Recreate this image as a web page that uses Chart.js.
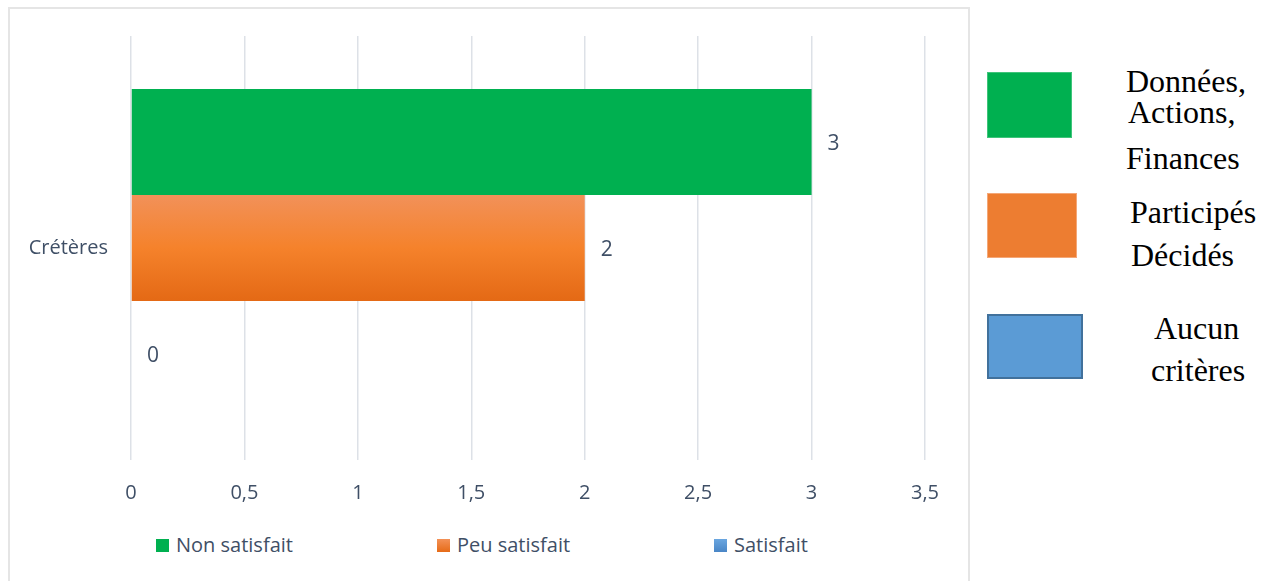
<!DOCTYPE html>
<html>
<head>
<meta charset="utf-8">
<script src="https://cdn.jsdelivr.net/npm/chart.js@4/dist/chart.umd.min.js"></script>
<style>
  body { margin: 0; background: #fff; width: 1268px; height: 581px; overflow: hidden; position: relative; }
  #frame { position: absolute; left: 8px; top: 7px; width: 962px; height: 600px; border: 2px solid #e5e5e5; box-sizing: border-box; }
  #wrap { position: absolute; left: 0; top: 0; width: 968px; height: 520px; }
  .leg { position: absolute; top: 531px; font: 20px "Open Sans", sans-serif; color: #3f4f66; line-height: 28px; }
  .leg i { position: absolute; left: 0; top: 8px; width: 13px; height: 13px; }
  .leg span { position: absolute; left: 20px; top: 0; white-space: nowrap; }
  .box { position: absolute; left: 987px; box-sizing: border-box; }
  .txt { position: absolute; font: 32px "Liberation Serif", "Times New Roman", serif; line-height: 36px; color: #000; white-space: nowrap; }
</style>
</head>
<body>
<div id="frame"></div>
<div id="wrap"><canvas id="barChart"></canvas></div>
<div id="legend"></div>
<div id="panel"></div>
<script>
// values
const categories = ['Crétères'];
const seriesNames = ['Non satisfait', 'Peu satisfait', 'Satisfait'];
const nonSatisfait = [3];
const peuSatisfait = [2];
const satisfait = [0];
const seriesColors = ['#00b050', '#f07d2e', '#5b9bd5'];
const axisMax = 3.5;
const axisStep = 0.5;

// side notes next to the chart
const panelLines = [
  ['Données,', 'Actions,', 'Finances'],
  ['Participés', 'Décidés'],
  ['Aucun', 'critères'],
];

const textColor = '#3f4f66';

// orange bar has a soft vertical gradient
const gradientBar = {
  id: 'gradientBar',
  beforeDatasetsDraw(chart) {
    const el = chart.getDatasetMeta(1).data[0];
    if (!el) return;
    const top = el.y - el.height / 2;
    const g = chart.ctx.createLinearGradient(0, top, 0, top + el.height);
    g.addColorStop(0, '#f29159');
    g.addColorStop(0.5, '#f5822b');
    g.addColorStop(1, '#e46915');
    el.options.backgroundColor = g;
  }
};

// value labels at the end of each bar
const valueLabels = {
  id: 'valueLabels',
  afterDatasetsDraw(chart) {
    const ctx = chart.ctx;
    ctx.save();
    ctx.font = '21px "Open Sans", sans-serif';
    ctx.fillStyle = textColor;
    ctx.textAlign = 'left';
    ctx.textBaseline = 'middle';
    chart.data.datasets.forEach((ds, i) => {
      chart.getDatasetMeta(i).data.forEach((el, j) => {
        ctx.fillText(String(ds.data[j]), el.x + 16, el.y + 2);
      });
    });
    ctx.restore();
  }
};

const ctx = document.getElementById('barChart').getContext('2d');
new Chart(ctx, {
  type: 'bar',
  data: {
    labels: categories,
    datasets: [
      { label: seriesNames[0], data: nonSatisfait, backgroundColor: seriesColors[0] },
      { label: seriesNames[1], data: peuSatisfait, backgroundColor: seriesColors[1] },
      { label: seriesNames[2], data: satisfait, backgroundColor: seriesColors[2] },
    ],
  },
  options: {
    indexAxis: 'y',
    responsive: true,
    maintainAspectRatio: false,
    animation: false,
    categoryPercentage: 0.75,
    barPercentage: 1,
    borderWidth: 0,
    layout: { padding: { top: 36, right: 43, left: 0, bottom: 0 } },
    plugins: { legend: { display: false }, tooltip: { enabled: false } },
    scales: {
      x: {
        min: 0,
        max: axisMax,
        ticks: {
          stepSize: axisStep,
          padding: 21,
          color: textColor,
          font: { family: 'Open Sans', size: 20 },
          callback: (v) => String(v).replace('.', ','),
        },
        grid: { color: '#dde1e7', lineWidth: 1.5, drawTicks: false },
        border: { display: false },
        afterFit(scale) {
          scale.height = 60;
          scale.paddingLeft = 0;
          scale.paddingRight = 0;
        },
      },
      y: {
        ticks: { padding: 23, color: textColor, font: { family: 'Open Sans', size: 20 } },
        grid: { display: false, drawTicks: false },
        border: { display: false },
        afterFit(scale) {
          scale.width = 131;
          scale.paddingTop = 0;
          scale.paddingBottom = 0;
        },
      },
    },
  },
  plugins: [gradientBar, valueLabels],
});

// bottom legend
const legendLeft = [156, 437, 714];
const legendSwatch = [seriesColors[0], 'linear-gradient(#f39157, #e66b17)', 'linear-gradient(#6aa6e0, #4a86c6)'];
const legend = document.getElementById('legend');
seriesNames.forEach((name, i) => {
  const d = document.createElement('div');
  d.className = 'leg';
  d.style.left = legendLeft[i] + 'px';
  d.innerHTML = '<i style="background:' + legendSwatch[i] + '"></i><span>' + name + '</span>';
  legend.appendChild(d);
});

// right panel: coloured blocks with serif captions
const panel = document.getElementById('panel');
const boxStyles = [
  { top: 72, w: 85, h: 66, bg: '#00b050', border: '1px solid #3fc47a' },
  { top: 193, w: 90, h: 65, bg: '#ed7d31', border: '1px solid #f4a777' },
  { top: 314, w: 96, h: 65, bg: '#5b9bd5', border: '2px solid #41719c' },
];
const lineTops = [[63, 94, 140], [194, 237], [310, 352]];
const lineLefts = [[1126, 1128, 1126], [1130, 1131], [1154, 1151]];
boxStyles.forEach((b, i) => {
  const r = document.createElement('div');
  r.className = 'box';
  r.style.cssText = 'top:' + b.top + 'px;width:' + b.w + 'px;height:' + b.h + 'px;background:' + b.bg + ';border:' + b.border;
  panel.appendChild(r);
  panelLines[i].forEach((t, k) => {
    const s = document.createElement('div');
    s.className = 'txt';
    s.style.top = lineTops[i][k] + 'px';
    s.style.left = lineLefts[i][k] + 'px';
    s.textContent = t;
    panel.appendChild(s);
  });
});
</script>
</body>
</html>
